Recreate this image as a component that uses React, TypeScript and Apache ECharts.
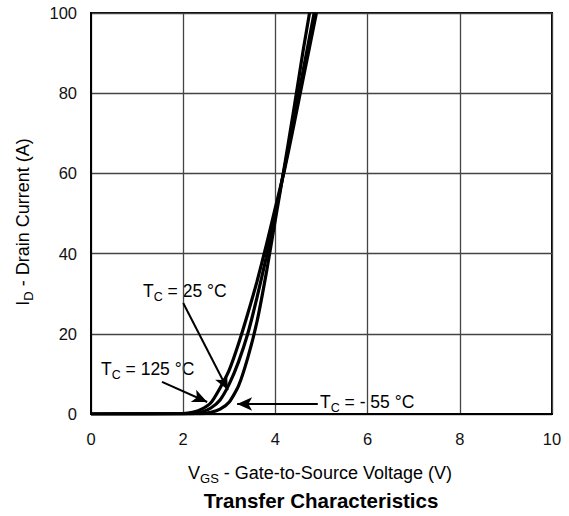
import React, { useEffect, useRef } from "react";
import * as echarts from "echarts";

const FONT = "'Liberation Sans', Arial, Helvetica, sans-serif";

const xMin = 0, xMax = 10, xStep = 2;
const yMin = 0, yMax = 100, yStep = 20;

const curveM55: [number, number][] = [
  [0, 0], [2.4, 0.1], [2.6, 0.4], [2.8, 1.2], [3.0, 3], [3.2, 7], [3.4, 14],
  [3.6, 23], [3.8, 35], [4.0, 48.5], [4.2, 62], [4.4, 76], [4.6, 90.5], [4.74, 100],
];
const curve25: [number, number][] = [
  [0, 0], [2.2, 0.1], [2.4, 0.5], [2.6, 1.5], [2.8, 3.5], [3.0, 7.5], [3.2, 13],
  [3.4, 20], [3.6, 29], [3.8, 39], [4.0, 50], [4.2, 61.5], [4.4, 73.5], [4.6, 85.5],
  [4.84, 100],
];
const curve125: [number, number][] = [
  [0, 0], [2.0, 0.1], [2.2, 0.4], [2.4, 1.2], [2.6, 2.8], [2.8, 6.5], [3.0, 11],
  [3.2, 17.5], [3.4, 25], [3.6, 33], [3.8, 42], [4.0, 51.5], [4.2, 61], [4.4, 72],
  [4.6, 83.5], [4.89, 100],
];

// annotation arrows (data coordinates: start -> tip)
const arrow25: [number, number][] = [[2.0, 27.7], [2.97, 6.0]];
const arrow125: [number, number][] = [[1.54, 8.0], [2.52, 3.0]];
const arrowM55: [number, number][] = [[4.92, 2.5], [3.17, 2.5]];

const labels = {
  t25: "{a|T}{s|C}{a| = 25 °C}",
  t125: "{a|T}{s|C}{a| = 125 °C}",
  tM55: "{a|T}{s|C}{a| = - 55 °C}",
  xName: "{a|V}{s|GS}{a| - Gate-to-Source Voltage (V)}",
  yName: "{a|I}{s|D}{a| - Drain Current (A)}",
  title: "Transfer Characteristics",
};

const rich = {
  a: { fontSize: 17.5, lineHeight: 24, fontFamily: FONT, color: "#000" },
  s: { fontSize: 12.5, lineHeight: 13, verticalAlign: "bottom", fontFamily: FONT, color: "#000" },
};
const richName = {
  a: { fontSize: 18, lineHeight: 24, fontFamily: FONT, color: "#111" },
  s: { fontSize: 13, lineHeight: 13, verticalAlign: "bottom", fontFamily: FONT, color: "#111" },
};

function arrowLine(a: [number, number][]) {
  return [{ coord: a[0] }, { coord: a[1] }];
}

export default function App() {
  const ref = useRef<HTMLDivElement>(null);
  useEffect(() => {
    if (!ref.current) return;
    const chart = echarts.init(ref.current, null, { renderer: "svg" });
    const lineSeries = (name: string, data: [number, number][]) => ({
      name,
      type: "line",
      data,
      showSymbol: false,
      smooth: 0.2,
      lineStyle: { color: "#000", width: 3.2 },
      z: 3,
    });
    chart.setOption({
      animation: false,
      backgroundColor: "#fff",
      grid: {
        left: 91, right: 17, top: 13, bottom: 102,
        show: true, borderColor: "#000", borderWidth: 2,
      },
      xAxis: {
        type: "value", min: xMin, max: xMax, interval: xStep,
        axisLine: { show: true, lineStyle: { color: "#000", width: 2 } },
        axisTick: { show: false },
        axisLabel: { margin: 16, fontSize: 16.5, color: "#111", fontFamily: FONT },
        splitLine: { show: true, lineStyle: { color: "#444", width: 1.3 } },
      },
      yAxis: {
        type: "value", min: yMin, max: yMax, interval: yStep,
        axisLine: { show: true, lineStyle: { color: "#000", width: 2 } },
        axisTick: { show: false },
        axisLabel: { margin: 14, fontSize: 16.5, color: "#111", fontFamily: FONT },
        splitLine: { show: true, lineStyle: { color: "#444", width: 1.3 } },
      },
      series: [
        lineSeries("-55", curveM55),
        lineSeries("25", curve25),
        {
          ...lineSeries("125", curve125),
          markLine: {
            silent: true,
            symbol: ["none", "arrow"],
            symbolSize: [10, 15],
            label: { show: false },
            lineStyle: { color: "#000", width: 2, type: "solid" },
            data: [arrowLine(arrow25), arrowLine(arrow125), arrowLine(arrowM55)],
          },
        },
      ],
      graphic: [
        { type: "text", x: 143, y: 291, style: { text: labels.t25, rich, verticalAlign: "middle" } },
        { type: "text", x: 101, y: 369, style: { text: labels.t125, rich, verticalAlign: "middle" } },
        { type: "text", x: 320, y: 402, style: { text: labels.tM55, rich, verticalAlign: "middle" } },
        { type: "text", x: 320, y: 473, style: { text: labels.xName, rich: richName, align: "center", verticalAlign: "middle" } },
        {
          type: "text", x: 23, y: 222, rotation: Math.PI / 2,
          style: { text: labels.yName, rich: richName, align: "center", verticalAlign: "middle" },
        },
        {
          type: "text", x: 321, y: 500,
          style: { text: labels.title, fontSize: 20.5, fontWeight: "bold", fontFamily: FONT, fill: "#000", align: "center", verticalAlign: "middle" },
        },
      ],
    });
    return () => chart.dispose();
  }, []);
  return <div ref={ref} style={{ position: "fixed", left: 0, top: 0, width: 569, height: 516 }} />;
}
